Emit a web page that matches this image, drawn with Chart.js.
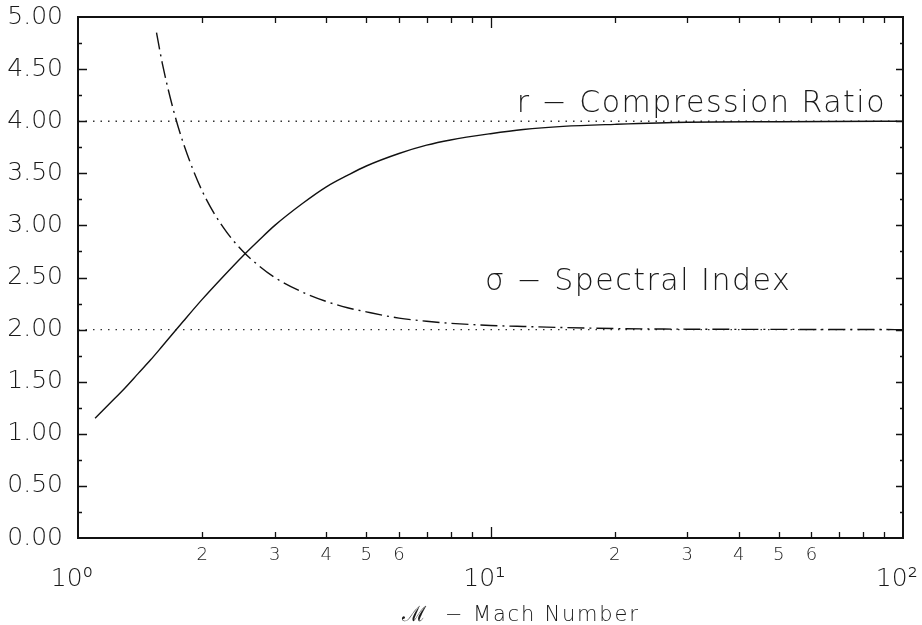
<!DOCTYPE html>
<html><head><meta charset="utf-8">
<script src="https://cdn.jsdelivr.net/npm/chart.js@4/dist/chart.umd.min.js"></script>
<style>html,body{margin:0;padding:0;background:#fff}#wrap{width:922px;height:625px;position:relative}</style>
</head><body><div id="wrap"><canvas id="c"></canvas></div>
<script>
// Compression ratio r vs Mach number
const machR = [1.1,1.2,1.3,1.4,1.5,1.6,1.8,2,2.25,2.5,2.75,3,3.5,4,4.5,5,6,7,8,10,12,15,20,30,50,100];
const compressionRatio = [1.15,1.30,1.44,1.58,1.71,1.84,2.08,2.29,2.51,2.70,2.86,3.00,3.21,3.37,3.48,3.57,3.69,3.77,3.82,3.88,3.92,3.95,3.97,3.99,3.995,4.0];
// Spectral index sigma vs Mach number
const machSigma = [1.55,1.6,1.7,1.8,2,2.25,2.5,2.75,3,3.5,4,4.5,5,6,7,8,10,12,15,20,30,50,100];
const spectralIndex = [4.85,4.56,4.12,3.79,3.33,2.98,2.76,2.61,2.50,2.36,2.27,2.21,2.17,2.11,2.08,2.06,2.04,2.03,2.02,2.01,2.004,2.002,2.0];
// dotted reference levels
const referenceLevels = [4, 2];
const xRange = [1, 100];
// tick values / labels
const xTickValues = [1,2,3,4,5,6,7,8,9,10,20,30,40,50,60,70,80,90,100];
const xMinorLabels = ['','2','3','4','5','6','','','','','2','3','4','5','6','','','',''];
const xDecades = [1,10,100];
const xDecadeLabels = ['10⁰','10¹','10²'];
const yRange = [0, 5];
const yStep = 0.5;
const yMinorStep = 0.25;
const annotationTexts = ['r − Compression Ratio', 'σ − Spectral Index'];
const xTitle = 'ℳ  − Mach Number';

const FAM = '"DejaVu Sans", "Liberation Sans", sans-serif';
const INK = '#1a1a1a';

const frame = {
  id: 'frame',
  afterDatasetsDraw(chart) {
    const {ctx, chartArea: a, scales: {x, y}} = chart;
    ctx.save();
    ctx.strokeStyle = '#111';
    ctx.lineWidth = 2;
    ctx.strokeRect(a.left, a.top, a.right - a.left, a.bottom - a.top);
    ctx.lineWidth = 1.3;
    ctx.beginPath();
    xTickValues.forEach(v => {
      if (v === xRange[0] || v === xRange[1]) return;
      const px = Math.round(x.getPixelForValue(v)) + 0.5;
      const L = xDecades.includes(v) ? 11 : 6;
      ctx.moveTo(px, a.bottom); ctx.lineTo(px, a.bottom - L);
      ctx.moveTo(px, a.top); ctx.lineTo(px, a.top + L);
    });
    const n = Math.round((yRange[1] - yRange[0]) / yMinorStep);
    for (let k = 1; k < n; k++) {
      const v = yRange[0] + k * yMinorStep;
      const py = Math.round(y.getPixelForValue(v)) + 0.5;
      const major = Math.abs(v / yStep - Math.round(v / yStep)) < 1e-6;
      ctx.moveTo(a.left, py); ctx.lineTo(a.left + (major ? 9 : 4), py);
      ctx.moveTo(a.right, py); ctx.lineTo(a.right - (major ? 7 : 3), py);
    }
    ctx.stroke();
    ctx.fillStyle = INK;
    ctx.letterSpacing = '1.5px';
    ctx.font = '200 30px ' + FAM;
    ctx.textBaseline = 'alphabetic';
    ctx.textAlign = 'right';
    ctx.fillText(annotationTexts[0], a.right - 17, y.getPixelForValue(referenceLevels[0]) - 9);
    ctx.textAlign = 'left';
    ctx.fillText(annotationTexts[1], a.left + 407, y.getPixelForValue(referenceLevels[1]) - 40);
    // axis title
    ctx.letterSpacing = '1.8px';
    ctx.font = '200 21px ' + FAM;
    ctx.textAlign = 'center';
    ctx.fillText(xTitle, a.left + 443, chart.height - 4);
    ctx.restore();
  }
};

const toPts = (xs, ys) => xs.map((v, i) => ({x: v, y: ys[i]}));

new Chart(document.getElementById('c'), {
  type: 'line',
  data: {
    datasets: [
      { data: toPts(machR, compressionRatio), borderColor: '#111', borderWidth: 1.4, pointRadius: 0, cubicInterpolationMode: 'monotone', fill: false },
      { data: toPts(machSigma, spectralIndex), borderColor: '#111', borderWidth: 1.4, pointRadius: 0, cubicInterpolationMode: 'monotone', borderDash: [17, 5, 2, 5], fill: false },
      { data: toPts(xRange, [referenceLevels[0], referenceLevels[0]]), borderColor: '#333', borderWidth: 1.4, pointRadius: 0, borderDash: [1.5, 6], fill: false },
      { data: toPts(xRange, [referenceLevels[1], referenceLevels[1]]), borderColor: '#333', borderWidth: 1.4, pointRadius: 0, borderDash: [1.5, 6], fill: false }
    ]
  },
  options: {
    responsive: true,
    maintainAspectRatio: false,
    animation: false,
    events: [],
    layout: { padding: { top: 17, right: 19, left: 0, bottom: 0 } },
    plugins: { legend: { display: false }, tooltip: { enabled: false } },
    scales: {
      x: {
        type: 'logarithmic',
        position: 'bottom',
        weight: 0,
        min: xRange[0], max: xRange[1],
        grid: { display: false, drawTicks: false },
        border: { display: false },
        afterBuildTicks(scale) {
          scale.ticks = xTickValues.map(v => ({ value: v }));
        },
        afterFit(scale) {
          scale.height = 29;
          scale.paddingLeft = 0; scale.paddingRight = 0;
        },
        ticks: {
          autoSkip: false, maxRotation: 0, minRotation: 0, padding: 7, color: INK,
          callback: (value) => {
            const i = xTickValues.indexOf(value);
            return i >= 0 ? xMinorLabels[i] : '';
          },
          font: { family: FAM, size: 18, weight: 200, lineHeight: 1.2 }
        }
      },
      x2: {
        type: 'logarithmic',
        position: 'bottom',
        weight: 1,
        min: xRange[0], max: xRange[1],
        grid: { display: false, drawTicks: false },
        border: { display: false },
        afterBuildTicks(scale) {
          scale.ticks = xDecades.map(v => ({ value: v }));
        },
        afterFit(scale) {
          scale.height = 58;
          scale.paddingLeft = 0; scale.paddingRight = 0;
        },
        ticks: {
          autoSkip: false, maxRotation: 0, minRotation: 0, padding: 0, color: INK,
          callback: (value) => {
            const i = xDecades.indexOf(value);
            return i >= 0 ? xDecadeLabels[i] + '\u2002' : '';
          },
          font: { family: FAM, size: 25, weight: 200, lineHeight: 1 }
        }
      },
      y: {
        min: yRange[0], max: yRange[1],
        grid: { display: false, drawTicks: false },
        border: { display: false },
        afterFit(scale) {
          scale.width = 78;
          scale.paddingTop = 0; scale.paddingBottom = 0;
        },
        ticks: {
          stepSize: yStep, padding: 15, color: INK,
          font: { family: FAM, size: 25, weight: 200 },
          callback: (v) => Number(v).toFixed(2)
        }
      }
    }
  },
  plugins: [frame]
});
</script>
</body></html>
